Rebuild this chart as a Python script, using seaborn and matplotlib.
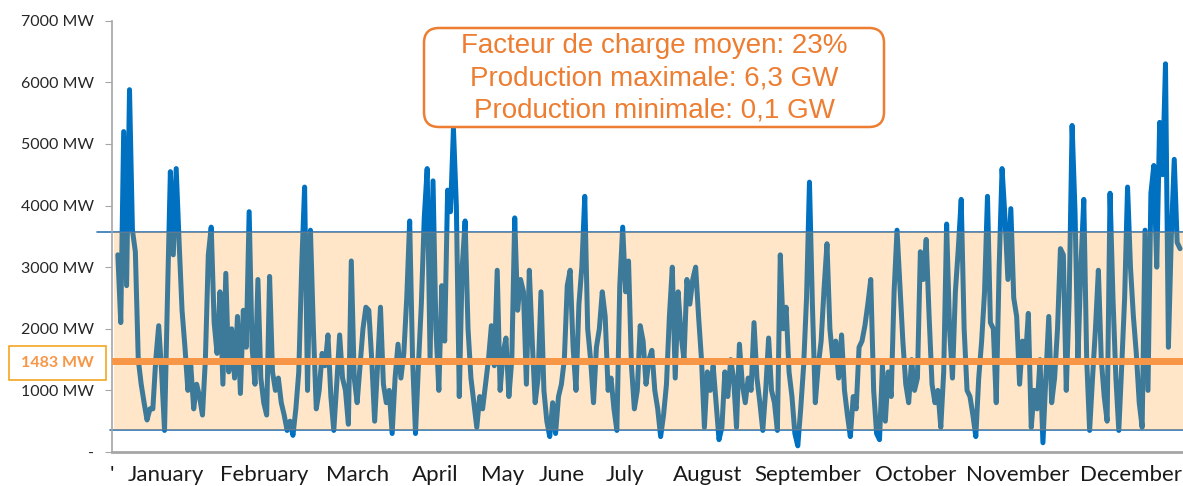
import numpy as np
import pandas as pd
import seaborn as sns
import matplotlib.pyplot as plt
from matplotlib.patches import FancyBboxPatch, Rectangle

sns.set_style("white")
plt.rcParams['font.family'] = ['Lato', 'DejaVu Sans']

# daily wind production (MW)
jan = [3200, 2100, 5200, 2700, 5880, 3600, 3250, 1500, 1100, 800, 520, 700, 700, 1500, 2050, 1300,
       350, 2500, 4550, 3200, 4600, 3400, 2300, 1700, 1000, 1400, 700, 1100, 900, 600, 1500]
feb = [3200, 3650, 2100, 1600, 2600, 1100, 2900, 1300, 2000, 1200, 2200, 950, 2300, 1700, 3900, 1700,
       1100, 2800, 1200, 800, 600, 2850, 1300, 1000, 1200, 800, 600, 350]
mar = [500, 270, 700, 1300, 3000, 4300, 1000, 3600, 2000, 700, 1000, 1600, 1400, 1900, 900, 350,
       1100, 1900, 1200, 1000, 450, 3100, 1200, 800, 1400, 2000, 2350, 2300, 1500, 500, 1400]
apr = [2350, 1100, 800, 1000, 300, 1200, 1750, 1200, 1600, 2500, 3750, 1500, 300, 1400, 2400, 3800,
       4600, 1500, 4400, 2000, 1000, 2700, 1800, 4250, 3900, 5250, 4000, 900, 3000, 3750]
may = [2000, 1200, 800, 400, 900, 700, 1100, 1500, 2050, 1400, 2950, 1000, 1600, 1850, 900, 1500,
       3800, 2300, 2800, 2600, 1100, 2950, 1800, 800, 1200, 2600, 1000, 500, 250, 800, 300]
jun = [900, 1100, 1500, 2700, 2950, 1700, 1000, 2400, 3000, 4150, 2000, 1500, 800, 1700, 2000, 2600,
       2200, 1000, 1200, 700, 350, 2700, 3650, 2600, 3100, 1400, 700, 1000, 2050, 1800]
jul = [1100, 1500, 1650, 1000, 700, 250, 600, 1100, 2200, 3000, 1200, 2600, 1900, 1500, 2800, 2400,
       2800, 3000, 2200, 1500, 400, 1300, 1000, 1400, 800, 200, 400, 1300, 900, 1500, 1200]
aug = [400, 1750, 1100, 800, 1200, 1000, 2100, 1200, 800, 350, 1000, 1850, 1000, 800, 350, 3200,
       2000, 2350, 1300, 900, 300, 100, 700, 1400, 2500, 4380, 2400, 800, 1400, 1800, 2650]
sep = [3380, 2000, 1500, 1800, 1200, 1900, 1000, 600, 250, 900, 700, 1700, 1800, 2050, 2400, 2800,
       1000, 300, 200, 1400, 500, 1300, 900, 2600, 3600, 2700, 1800, 1100, 800, 1500]
oct_ = [1000, 1200, 3250, 2800, 3450, 2200, 1100, 800, 1000, 400, 1300, 3700, 2000, 1200, 2600, 3300,
        4100, 2000, 1000, 900, 600, 250, 1200, 1800, 2600, 4150, 2100, 2000, 800, 3000, 4600]
nov = [3800, 2800, 3950, 2500, 2200, 1100, 1800, 1500, 2250, 400, 1000, 700, 1500, 150, 1200, 2200,
       800, 1200, 2000, 3300, 3200, 1000, 2500, 5300, 3900, 1500, 3000, 4100, 1500, 350]
dec = [1200, 2000, 2950, 1500, 900, 500, 4200, 2500, 1200, 350, 1400, 2500, 4300, 3000, 2200, 1600,
       800, 400, 3600, 1000, 4200, 4650, 3000, 5350, 4500, 6300, 1700, 3500, 4750, 3400, 3300]

months = ["January", "February", "March", "April", "May", "June", "July",
          "August", "September", "October", "November", "December"]
month_pos = [16.4, 50.2, 82.3, 108.9, 131.7, 152.2, 173.7, 202.0, 236.5, 273.4, 308.5, 347.1]
yticks = [0, 1000, 2000, 3000, 4000, 5000, 6000, 7000]
mean_mw = 1483
band_low, band_high = 357, 3566
info = ["Facteur de charge moyen: 23%",
        "Production maximale: 6,3 GW",
        "Production minimale: 0,1 GW"]

mw = jan + feb + mar + apr + may + jun + jul + aug + sep + oct_ + nov + dec
df = pd.DataFrame({"day": np.arange(len(mw)), "mw": mw})

W, H = 1183, 486
fig = plt.figure(figsize=(W / 100, H / 100), dpi=100)
ax = fig.add_axes([112 / W, (H - 452) / H, 1 - 112 / W, (452 - 20.7) / H])

sns.lineplot(data=df, x="day", y="mw", color="#0070C0", lw=3.6, ax=ax, zorder=2)

# band and reference lines
ax.axhspan(band_low, band_high, xmin=0.002, color="#FF991E", alpha=0.245, lw=0, zorder=3)
ax.axhline(band_high, xmin=-0.014, color="#2E75B6", lw=1.2, clip_on=False, zorder=2.5)
ax.axhline(band_low, xmin=-0.002, color="#2E75B6", lw=1.2, clip_on=False, zorder=2.5)
ax.axhline(mean_mw, color="#F79646", lw=5, zorder=4)

ax.set_xlim(-0.5, 365)
ax.set_ylim(0, 7000)
ax.set_yticks(yticks)
ax.set_yticklabels(["-"] + [f"{v} MW" for v in yticks[1:]])
ax.set_xticks([-2] + month_pos)
ax.set_xticklabels(["'"] + months)
ax.set_xlabel("")
ax.set_ylabel("")
ax.tick_params(axis="y", direction="out", length=5, color="#A6A6A6", labelsize=11.5,
               labelcolor="#262626", pad=8, left=True)
ax.tick_params(axis="x", length=0, labelsize=16, labelcolor="#1a1a1a", pad=9)

sns.despine(ax=ax)
ax.spines["left"].set_color("#A6A6A6")
ax.spines["left"].set_linewidth(1.2)
ax.spines["bottom"].set_color("#A6A6A6")
ax.spines["bottom"].set_linewidth(2)

# mean value tag on the left
fig.patches.append(Rectangle((9 / W, 1 - 380 / H), 97 / W, 34 / H, transform=fig.transFigure,
                             fc="white", ec="#F5A623", lw=1.2))
fig.text(57 / W, 1 - 363 / H, f"{mean_mw} MW", ha="center", va="center",
         color="#F79646", fontsize=11.5, fontweight="bold")

# info box
fig.patches.append(FancyBboxPatch((4.24, (H - 127) / 100), 4.60, 0.99,
                                  boxstyle="round,pad=0,rounding_size=0.15",
                                  transform=fig.dpi_scale_trans, fc="white", ec="#ED7D31", lw=1.8,
                                  zorder=5))
fig.text(654 / W, 1 - 78 / H, "\n".join(info), ha="center", va="center", color="#ED7D31",
         fontsize=20, family=["Liberation Sans", "DejaVu Sans"], linespacing=1.3, zorder=6)

fig.savefig("out.png", dpi=100)
